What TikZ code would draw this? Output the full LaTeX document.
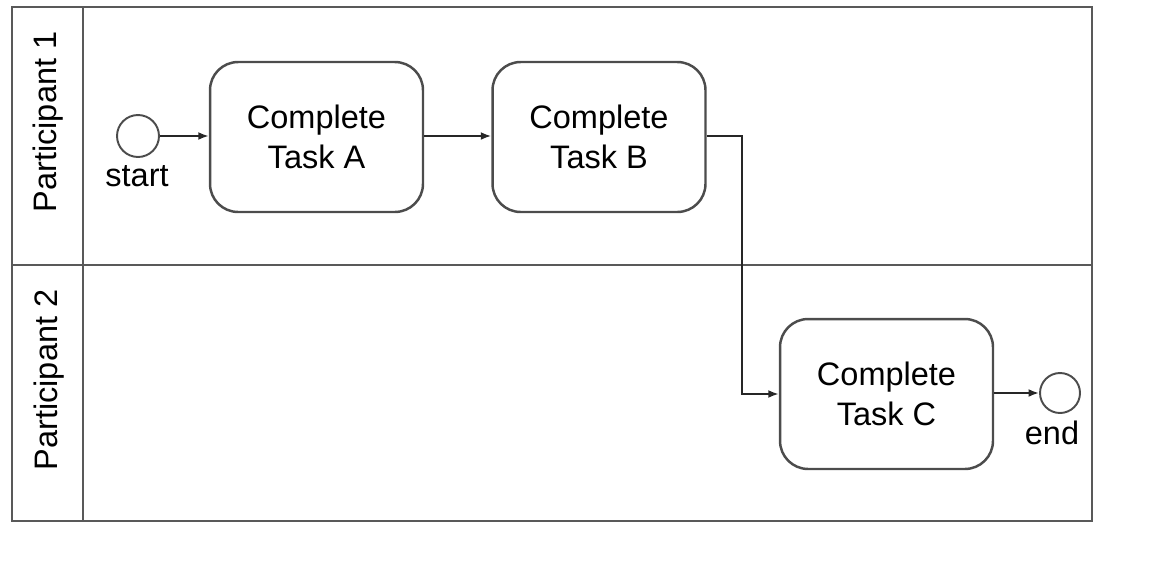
\documentclass[tikz,border=0pt]{standalone}
\usepackage{fontspec}
\setmainfont{Liberation Sans}
\usetikzlibrary{arrows.meta}
\tikzset{
    lane/.style={draw=black!65, line width=1.6pt}, % pool and lane borders
    task/.style={draw=black!70, line width=1.4pt, rounded corners=16pt, minimum width=4.26cm, minimum height=3cm, align=center}, % activity boxes
    event/.style={circle, draw=black!70, line width=1.1pt, minimum size=0.84cm, inner sep=0pt}, % start and end events
    flow/.style={draw=black!85, line width=1pt, -{Latex[length=6pt,width=4.5pt]}} % sequence flows
}

\begin{document}
\begin{tikzpicture}[x=0.02cm, y=-0.02cm, font=\fontsize{18.5}{22.7}\selectfont]
    \useasboundingbox (0,0) rectangle (1165,568);

    % pool with two lanes
    \draw[lane] (12,7) rectangle (1092,521);
    \draw[lane] (83,7) -- (83,521);
    \draw[lane] (12,265) -- (1092,265);
    \node[rotate=90] (lane1) at (48,122) {Participant 1};
    \node[rotate=90] (lane2) at (49,380) {Participant 2};

    % events and tasks
    \node[event] (start) at (138,136) {};
    \node (startlbl) at (137,176) {start};
    \node[task] (taskA) at (316.5,137) {Complete\\Task A};
    \node[task] (taskB) at (599,137) {Complete\\Task B};
    \node[task] (taskC) at (886.5,394) {Complete\\Task C};
    \node[event, minimum size=0.8cm] (end) at (1060,393) {};
    \node (endlbl) at (1052,433) {end};
    \coordinate (bend) at (742,136);

    % sequence flows
    \draw[flow] (start.east) -- (start.east -| taskA.west);
    \draw[flow] (taskA.east |- start.east) -- (start.east -| taskB.west);
    \draw[flow] (taskB.east |- bend) -- (bend) |- (taskC.west);
    \draw[flow] (taskC.east |- end) -- (end.west);
\end{tikzpicture}
\end{document}
